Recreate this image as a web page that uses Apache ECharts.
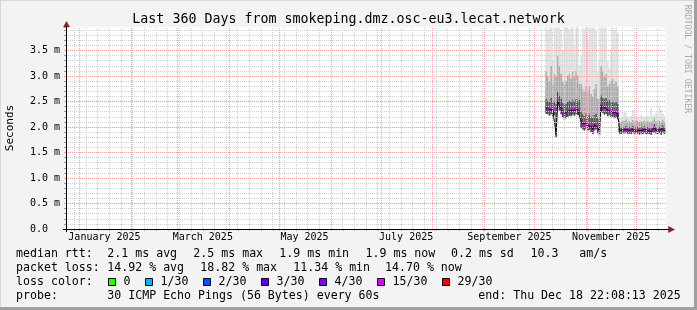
<!DOCTYPE html>
<html><head><meta charset="utf-8">
<script src="https://cdn.jsdelivr.net/npm/echarts@6/dist/echarts.min.js"></script>
<style>html,body{margin:0;padding:0;background:#f3f3f3}#c{width:697px;height:310px}</style>
</head><body><div id="c"></div>
<script>
// ---------------- DATA ----------------
const titleText = 'Last 360 Days from smokeping.dmz.osc-eu3.lecat.network';
const yAxisName = 'Seconds';
const watermark = 'RRDTOOL / TOBI OETIKER';
const endTimeStr = '2025-12-18T22:08:13Z';
const rangeDays = 360;
const monthStarts = ['2025-01-01','2025-02-01','2025-03-01','2025-04-01','2025-05-01','2025-06-01',
  '2025-07-01','2025-08-01','2025-09-01','2025-10-01','2025-11-01','2025-12-01'];
const firstWeekStart = '2024-12-29';
const xTickLabels = ['January 2025','March 2025','May 2025','July 2025','September 2025','November 2025'];
const xLabelDates = ['2025-01-16','2025-03-16','2025-05-16','2025-07-16','2025-09-16','2025-11-16'];
const yTickLabels = ['0.0  ','0.5 m','1.0 m','1.5 m','2.0 m','2.5 m','3.0 m','3.5 m'];
const yMaxValue = 3.96;

// one sample per day starting at dataStart (RTT in ms)
const dataStart = '2025-10-08';
const medianRtt = [2.38,2.36,2.34,2.37,2.33,2.35,1.86,2.50,2.44,2.36,2.30,2.26,2.28,2.31,2.33,2.32,2.35,2.33,2.36,2.34,2.36,
  2.10,2.06,2.04,2.07,2.03,2.05,2.01,1.95,2.04,2.06,1.98,1.92,
  2.42,2.38,2.35,2.37,2.32,2.34,2.30,2.31,2.28,2.29,2.26,
  1.93,1.92,1.94,1.93,1.95,1.92,1.93,1.92,1.96,1.92,1.94,1.93,1.91,1.93,1.92,1.95,1.92,1.93,1.92,1.91,1.94,1.99,1.93,1.92,1.94,1.91,1.97,1.92];
const lowRtt = [2.26,2.25,2.22,2.25,2.21,2.23,1.80,2.38,2.32,2.25,2.19,2.15,2.17,2.20,2.22,2.21,2.24,2.22,2.25,2.23,2.25,
  1.98,1.95,1.93,1.96,1.92,1.94,1.90,1.86,1.93,1.95,1.88,1.84,
  2.30,2.27,2.24,2.26,2.21,2.23,2.19,2.20,2.17,2.18,2.15,
  1.87,1.86,1.88,1.87,1.88,1.86,1.87,1.86,1.89,1.86,1.88,1.87,1.85,1.87,1.86,1.88,1.86,1.87,1.86,1.85,1.88,1.90,1.87,1.86,1.88,1.85,1.89,1.86];
const upperRtt1 = [2.55,2.52,2.50,2.58,2.48,2.52,2.45,2.70,2.62,2.55,2.48,2.45,2.46,2.50,2.52,2.50,2.54,2.51,2.55,2.52,2.54,
  2.30,2.25,2.22,2.27,2.22,2.25,2.20,2.18,2.24,2.27,2.18,2.12,
  2.62,2.58,2.55,2.57,2.52,2.54,2.50,2.51,2.48,2.49,2.46,
  2.00,1.99,2.01,2.00,2.02,1.99,2.00,1.99,2.03,1.99,2.01,2.00,1.98,2.00,1.99,2.02,1.99,2.00,1.99,1.98,2.01,2.06,2.00,1.99,2.01,1.98,2.04,1.99];
const upperRtt2 = [3.10,3.00,2.90,3.20,2.85,3.05,3.00,3.40,3.20,3.05,2.90,2.85,2.90,3.00,3.05,2.95,3.10,3.00,3.10,3.00,2.85,
  2.85,2.75,2.70,2.80,2.70,2.80,2.65,2.60,2.75,2.85,2.55,2.55,
  3.20,3.10,3.00,3.05,2.80,2.85,2.90,2.95,2.85,2.90,2.80,
  2.12,2.10,2.13,2.12,2.15,2.11,2.12,2.10,2.14,2.11,2.13,2.12,2.10,2.12,2.11,2.13,2.10,2.12,2.11,2.10,2.13,2.18,2.12,2.11,2.13,2.10,2.15,2.11];
const maxRtt = [3.95,3.90,3.95,3.95,3.30,3.95,3.95,3.95,3.95,3.90,3.50,3.95,3.95,3.95,3.90,3.95,3.95,3.60,3.95,3.95,3.20,
  3.40,3.95,3.90,3.95,3.75,3.95,3.95,3.95,3.95,3.90,3.10,3.30,
  3.95,3.95,3.95,3.95,3.30,3.15,3.50,3.95,3.90,3.95,3.85,
  2.20,2.18,2.22,2.30,2.28,2.20,2.18,2.22,2.34,2.25,2.22,2.21,2.19,2.24,2.20,2.22,2.19,2.21,2.20,2.37,2.22,2.24,2.28,2.20,2.42,2.34,2.26,2.22];

const rttLabel = 'median rtt:';
const rttStats = ['2.1 ms avg','2.5 ms max','1.9 ms min','1.9 ms now','0.2 ms sd','10.3   am/s'];
const lossLabel = 'packet loss:';
const lossStats = ['14.92 % avg','18.82 % max','11.34 % min','14.70 % now'];
const lossColorLabel = 'loss color:';
const lossNames = ['0','1/30','2/30','3/30','4/30','15/30','29/30'];
const lossColors = ['#26ff00','#00b8ff','#0059ff','#5e00ff','#7e00ff','#dd00ff','#ff0000'];
const probeLabel = 'probe:';
const probeText = '30 ICMP Echo Pings (56 Bytes) every 60s';
const endText = 'end: Thu Dec 18 22:08:13 2025';
const currentLossColor = '#dd00ff';

// ---------------- BUILD ----------------
const DAY = 86400000;
const endTime = Date.parse(endTimeStr);
const startTime = endTime - rangeDays * DAY;
const t0 = Date.parse(dataStart);
const times = medianRtt.map((_, i) => t0 + i * DAY);
const weekStarts = [];
for (let t = Date.parse(firstWeekStart); t < endTime; t += 7 * DAY) weekStarts.push(t);
const monthTs = monthStarts.map(Date.parse);
const labelTs = xLabelDates.map(Date.parse);

const smokeData = times.map((t, i) => [t, lowRtt[i], medianRtt[i], upperRtt1[i], upperRtt2[i], maxRtt[i]]);
const medianData = times.map((t, i) => [t, medianRtt[i]]);

const FONT = '"DejaVu Sans Mono", monospace';
const GRID_MINOR = '#cfcfcf';
const GRID_MAJOR = '#f0a0a0';
const ARROW = '#8b1a1a';
const SMOKE_COLORS = ['#474747', '#585858', '#ababab', '#e0e0e0'];

function renderSmoke(params, api) {
  const t = api.value(0);
  const xl = api.coord([t - DAY / 2, 0])[0];
  const xr = api.coord([t + DAY / 2, 0])[0];
  const children = [];
  for (let k = 0; k < 4; k++) {
    const yb = api.coord([t, api.value(k + 1)])[1];
    const yt = api.coord([t, api.value(k + 2)])[1];
    children.push({ type: 'rect', shape: { x: xl, y: yt, width: xr - xl, height: yb - yt },
      style: { fill: SMOKE_COLORS[k] } });
  }
  return { type: 'group', children };
}
function renderLoss(params, api) {
  const t = api.value(0), v = api.value(1);
  const p0 = api.coord([t - DAY / 2, v + 0.026]);
  const p1 = api.coord([t + DAY / 2, v - 0.026]);
  return { type: 'rect', shape: { x: p0[0], y: p0[1], width: p1[0] - p0[0], height: p1[1] - p0[1] },
    style: { fill: currentLossColor } };
}
// vertical dotted grid (weeks / months), placed through the x scale
function makeVGrid(times, color) {
  return function (params, api) {
    const cs = params.coordSys;
    const T = Math.round(cs.y), B = Math.round(cs.y + cs.height);
    const children = [];
    times.forEach(t => {
      const x = Math.floor(api.coord([t, 0])[0]);
      for (let y = T + 1; y < B; y += 2) {
        children.push({ type: 'rect', shape: { x, y, width: 1, height: 1 }, style: { fill: color } });
      }
    });
    return { type: 'group', children };
  };
}
function renderAxisDeco(params, api) {
  const cs = params.coordSys;
  const L = cs.x, T = cs.y, R = cs.x + cs.width, B = cs.y + cs.height;
  return { type: 'group', children: [
    { type: 'line', shape: { x1: L - 3, y1: B + 0.5, x2: R + 3, y2: B + 0.5 }, style: { stroke: '#000', lineWidth: 1 } },
    { type: 'line', shape: { x1: L + 0.5, y1: B + 3, x2: L + 0.5, y2: T - 1 }, style: { stroke: '#000', lineWidth: 1 } },
    { type: 'polygon', shape: { points: [[R + 2.5, B - 2.5], [R + 2.5, B + 3.5], [R + 8.5, B + 0.5]] }, style: { fill: ARROW, stroke: ARROW, lineWidth: 0.5 } },
    { type: 'polygon', shape: { points: [[L - 2.5, T], [L + 3.5, T], [L + 0.5, T - 5.5]] }, style: { fill: ARROW, stroke: ARROW, lineWidth: 0.5 } }
  ] };
}

const option = {
  animation: false,
  backgroundColor: '#f3f3f3',
  grid: { left: 66, top: 27, right: 31, bottom: 81, show: true, backgroundColor: '#ffffff', borderWidth: 0 },
  xAxis: [
    { type: 'value', position: 'bottom', min: startTime, max: endTime, z: 4,
      axisLine: { show: false }, axisLabel: { show: false }, splitLine: { show: false },
      axisTick: { show: true, customValues: weekStarts, length: 2, lineStyle: { color: '#aaaaaa' } } },
    { type: 'value', position: 'bottom', min: startTime, max: endTime, z: 5,
      axisLine: { show: false }, axisLabel: { show: false }, splitLine: { show: false },
      axisTick: { show: true, customValues: monthTs, length: 2, lineStyle: { color: GRID_MAJOR } } },
    { type: 'value', position: 'bottom', min: startTime, max: endTime, z: 6,
      axisLine: { show: false }, axisTick: { show: false }, splitLine: { show: false },
      axisLabel: { show: true, customValues: labelTs, margin: 3, color: '#000',
        fontFamily: FONT, fontSize: 10,
        formatter: v => { const i = labelTs.indexOf(v); return i >= 0 ? xTickLabels[i] : ''; } } }
  ],
  yAxis: [
    { type: 'value', position: 'left', min: 0, max: yMaxValue, interval: 0.1, z: 4,
      axisLine: { show: false }, axisLabel: { show: false },
      axisTick: { show: true, length: 2, lineStyle: { color: '#999999' } },
      splitLine: { show: true, showMinLine: false, showMaxLine: false,
        lineStyle: { color: GRID_MINOR, type: [1, 1], width: 1 } } },
    { type: 'value', position: 'left', min: 0, max: yMaxValue, interval: 0.5, z: 6,
      axisLine: { show: false },
      axisTick: { show: true, length: 2, lineStyle: { color: GRID_MAJOR } },
      splitLine: { show: true, showMinLine: false, showMaxLine: false,
        lineStyle: { color: GRID_MAJOR, type: [1, 1], width: 1 } },
      axisLabel: { show: true, margin: 6, color: '#000', fontFamily: FONT, fontSize: 10,
        formatter: v => { const k = Math.round(v / 0.5); return Math.abs(v - k * 0.5) < 1e-6 ? yTickLabels[k] : ''; } } }
  ],
  series: [
    { name: 'smoke', type: 'custom', silent: true, renderItem: renderSmoke, data: smokeData,
      encode: { x: 0, y: [1, 5] }, clip: true, z: 2 },
    { name: 'median', type: 'line', symbol: 'none', silent: true, data: medianData,
      lineStyle: { color: '#000000', width: 1 }, z: 3 },
    { name: 'loss', type: 'custom', silent: true, renderItem: renderLoss, data: medianData,
      encode: { x: 0, y: 1 }, clip: true, z: 3 },
    { name: 'weekGrid', type: 'custom', silent: true, renderItem: makeVGrid(weekStarts, GRID_MINOR),
      data: [[startTime, 0]], encode: { x: 0, y: 1 }, clip: false, z: 5 },
    { name: 'monthGrid', type: 'custom', silent: true, renderItem: makeVGrid(monthTs, GRID_MAJOR),
      data: [[startTime, 0]], encode: { x: 0, y: 1 }, clip: false, z: 6 },
    { name: 'axes', type: 'custom', silent: true, renderItem: renderAxisDeco, data: [[startTime, 0]],
      encode: { x: 0, y: 1 }, clip: false, z: 7 }
  ],
  graphic: []
};

// ---------------- TEXT / LEGEND LAYOUT ----------------
const G = option.graphic;
const txt = (text, x, y, size, align) => G.push({ type: 'text', x, y, silent: true,
  style: { text, fill: '#000', font: size + 'px ' + FONT, align: align || 'left', verticalAlign: 'middle' } });

txt(titleText, 348.5, 19.5, 13.3, 'center');
G.push({ type: 'text', x: 10.5, y: 128, rotation: Math.PI / 2, silent: true,
  style: { text: yAxisName, fill: '#000', font: '11px ' + FONT, align: 'center', verticalAlign: 'middle' } });
G.push({ type: 'text', x: 687, y: 59, rotation: -Math.PI / 2, silent: true,
  style: { text: watermark, fill: '#aaaaaa', font: '8.2px ' + FONT, align: 'center', verticalAlign: 'middle' } });

const LX = 16, FS = 11.6;
const rowY = [254, 268, 282, 296];
txt(rttLabel, LX, rowY[0], FS);
[107.3, 193.3, 279.3, 365.5, 451, 530.5].forEach((x, i) => txt(rttStats[i], x, rowY[0], FS));
txt(lossLabel, LX, rowY[1], FS);
[107.3, 200.3, 293.3, 385].forEach((x, i) => txt(lossStats[i], x, rowY[1], FS));
txt(lossColorLabel, LX, rowY[2], FS);
[108.5, 145.5, 203.5, 261.5, 319.5, 377.5, 442.5].forEach((x, i) => {
  G.push({ type: 'rect', silent: true, shape: { x, y: 278.5, width: 7, height: 7 },
    style: { fill: lossColors[i], stroke: '#000', lineWidth: 1 } });
  txt(lossNames[i], x + 15, rowY[2], FS);
});
txt(probeLabel, LX, rowY[3], FS);
txt(probeText, 107.3, rowY[3], FS);
txt(endText, 478.3, rowY[3], FS);

// frame shading
G.push({ type: 'rect', silent: true, shape: { x: 0, y: 0, width: 697, height: 1 }, style: { fill: '#d8d8d8' } });
G.push({ type: 'rect', silent: true, shape: { x: 0, y: 0, width: 1, height: 310 }, style: { fill: '#d8d8d8' } });
G.push({ type: 'rect', silent: true, shape: { x: 0, y: 307, width: 697, height: 3 }, style: { fill: '#a0a0a0' } });
G.push({ type: 'rect', silent: true, shape: { x: 694, y: 0, width: 3, height: 310 }, style: { fill: '#a0a0a0' } });

const chart = echarts.init(document.getElementById('c'), null, { renderer: 'canvas' });
chart.setOption(option);
</script></body></html>
